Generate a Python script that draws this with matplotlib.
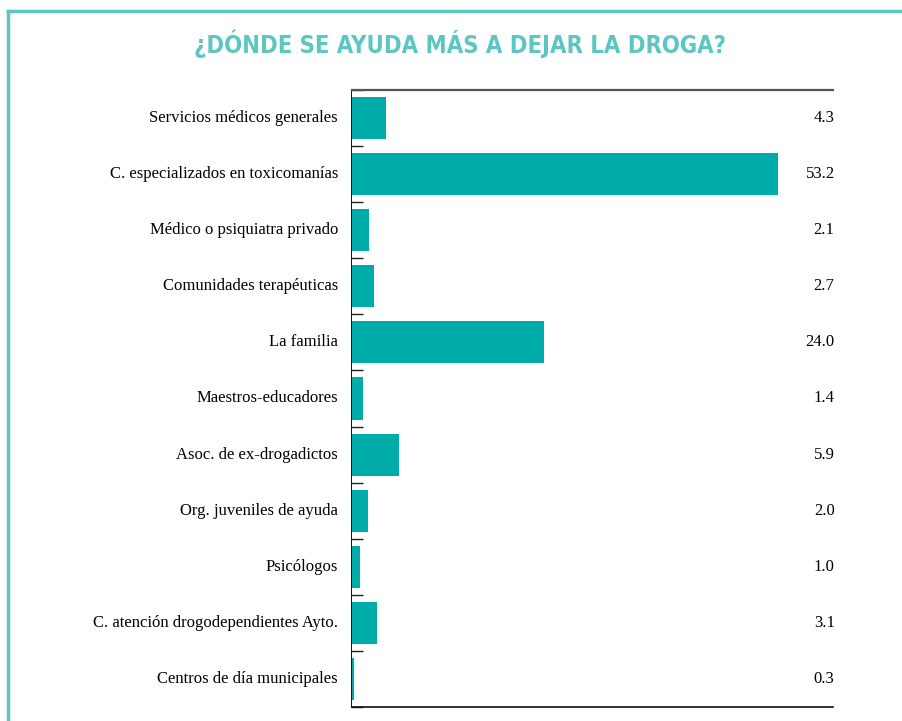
import matplotlib
matplotlib.use("Agg")
import matplotlib.pyplot as plt
from matplotlib.lines import Line2D

categorias = [
    "Servicios médicos generales",
    "C. especializados en toxicomanías",
    "Médico o psiquiatra privado",
    "Comunidades terapéuticas",
    "La familia",
    "Maestros-educadores",
    "Asoc. de ex-drogadictos",
    "Org. juveniles de ayuda",
    "Psicólogos",
    "C. atención drogodependientes Ayto.",
    "Centros de día municipales",
]
valores = [4.3, 53.2, 2.1, 2.7, 24.0, 1.4, 5.9, 2.0, 1.0, 3.1, 0.3]
titulo = "¿DÓNDE SE AYUDA MÁS A DEJAR LA DROGA?"

verde = "#00aca7"
verde_claro = "#5cc6c3"

fig = plt.figure(figsize=(9.03, 7.21), dpi=100)
ax = fig.add_axes([352 / 903, 1 - 707 / 721, 481 / 903, 617 / 721])

pos = list(range(len(categorias)))
ax.barh(pos, valores, height=0.75, color=verde)
ax.set_xlim(0, 60)
ax.set_ylim(len(categorias) - 0.5, -0.5)

# etiquetas a la izquierda, valores a la derecha
for i, (c, v) in enumerate(zip(categorias, valores)):
    ax.text(-14 / 8.02, i, c, ha="right", va="center", fontsize=12,
            family="Liberation Serif", color="#000000")
    ax.text(60.2, i, f"{v:.1f}", ha="right", va="center", fontsize=12,
            family="Liberation Serif", color="#000000")

# separadores entre categorias
ax.set_yticks([i + 0.5 for i in range(-1, len(categorias))])
ax.set_yticklabels([])
ax.tick_params(axis="y", direction="in", length=8.6, width=1, color="#222222")
ax.set_xticks([])

ax.spines["right"].set_visible(False)
ax.spines["left"].set_color("#111111")
ax.spines["left"].set_linewidth(0.7)
ax.spines["left"].set_position(("outward", 1))
ax.spines["top"].set_color("#555555")
ax.spines["top"].set_linewidth(1.6)
ax.spines["bottom"].set_color("#111111")
ax.spines["bottom"].set_linewidth(1.2)

fig.text(460 / 903, 1 - 44 / 721, titulo, ha="center", va="center",
         fontsize=17, fontweight="bold", fontstretch="condensed",
         family="DejaVu Sans", color=verde_claro)

# marco
marco = dict(color=verde_claro, linewidth=2.5, transform=fig.transFigure)
fig.add_artist(Line2D([8 / 903, 8 / 903], [0, 1 - 11 / 721], **marco))
fig.add_artist(Line2D([8 / 903, 1], [1 - 11 / 721, 1 - 11 / 721], **marco))

fig.savefig("out.png", dpi=100)
